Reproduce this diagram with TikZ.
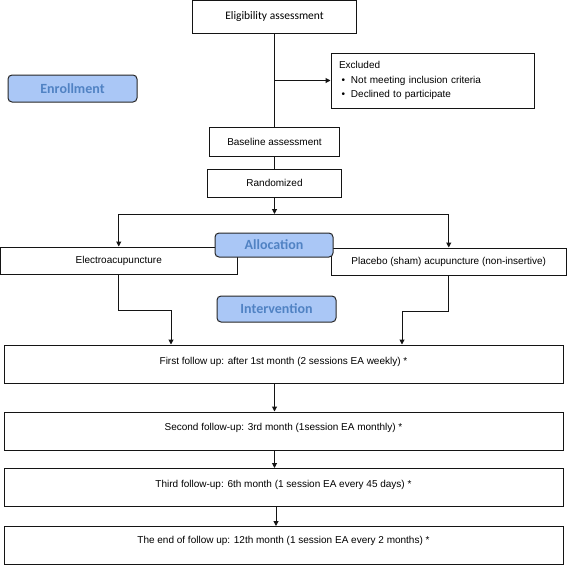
\documentclass[tikz,border=0pt]{standalone}
\usepackage{fontspec}
\setmainfont{Liberation Sans}
\newfontfamily\calib{Carlito}
\usetikzlibrary{arrows.meta}
\definecolor{tagfill}{RGB}{170,199,246}
\definecolor{tagtext}{RGB}{80,130,195}
\definecolor{linecol}{RGB}{20,20,20}
\begin{document}
\begin{tikzpicture}[x=1pt,y=-1pt,
  box/.style={draw=linecol, line width=1pt, fill=white, inner sep=0pt,
    font=\fontsize{10}{12}\selectfont, align=center},
  fbox/.style={box, minimum width=559pt, text height=#1, text depth=38pt-#1, minimum height=38pt},
  tag/.style={draw=black!85, line width=1pt, rounded corners=4pt, fill=tagfill,
    text=tagtext, inner sep=0pt, font=\calib\bfseries\fontsize{14}{16}\selectfont},
  arr/.style={draw=linecol, line width=1pt, -{Triangle[length=5pt,width=5pt]}},
  ln/.style={draw=linecol, line width=1pt}]
\useasboundingbox (0,0) rectangle (567,565);

% main column
\node[box, minimum width=164pt, minimum height=32.5pt, font=\calib\fontsize{11.5}{13}\selectfont] (elig) at (274.5,16.75) {Eligibility assessment};
\node[box, minimum width=203pt, minimum height=55pt, text width=187pt, align=left,
  font=\fontsize{10}{14.5}\selectfont] (excl) at (432.5,80.5)
  {Excluded\\\hspace*{2.5pt}\makebox[9.5pt][l]{\textbullet}Not meeting inclusion criteria\\\hspace*{2.5pt}\makebox[9.5pt][l]{\textbullet}Declined to participate};
\node[box, minimum width=130pt, minimum height=29pt] (base) at (274.5,141.5) {Baseline assessment};
\node[box, minimum width=134pt, minimum height=28pt] (rand) at (274.5,183) {Randomized};

\node[box, minimum width=236.5pt, minimum height=27pt] (electro) at (118.75,260.5) {Electroacupuncture};
\node[box, minimum width=235.5pt, minimum height=27pt] (placebo) at (448.75,261.5) {Placebo (sham) acupuncture (non-insertive)};

\node[fbox=19.5pt] (f1) at (283.5,364) {First follow up: after 1st month (2 sessions EA weekly) *};
\node[fbox=18.5pt] (f2) at (283.5,431) {Second follow-up: 3rd month (1session EA monthly) *};
\node[fbox=18.5pt] (f3) at (283.5,487.5) {Third follow-up: 6th month (1 session EA every 45 days) *};
\node[fbox=17pt] (f4) at (283.5,545.5) {The end of follow up: 12th month (1 session EA every 2 months) *};

% connectors
\coordinate (split) at (274.5,214);
\coordinate (elturn) at (171,310);
\coordinate (plturn) at (402,311);
\draw[ln] (elig.south) -- (base.north);
\draw[arr] (elig.south |- excl.west) -- (excl.west);
\draw[ln] (base.south) -- (rand.north);
\draw[arr] (rand.south) -- (split);
\draw[arr] (split) -| (electro.north);
\draw[arr] (split) -| (placebo.north);
\draw[arr] (electro.south) |- (elturn) -- (elturn |- f1.north);
\draw[arr] (placebo.south) |- (plturn) -- (plturn |- f1.north);
\draw[arr] (f1.south -| split) -- (f2.north -| split);
\draw[arr] (f2.south -| split) -- (f3.north -| split);
\draw[arr] ([xshift=1.5pt]f3.south -| split) -- ([xshift=1.5pt]f4.north -| split);

% phase labels
\node[tag, minimum width=129pt, minimum height=27pt] (enroll) at (72.5,88.5) {Enrollment};
\node[tag, minimum width=118pt, minimum height=24pt] (alloc) at (274,245) {Allocation};
\node[tag, minimum width=119pt, minimum height=26pt] (interv) at (276.5,309) {Intervention};
\end{tikzpicture}
\end{document}
